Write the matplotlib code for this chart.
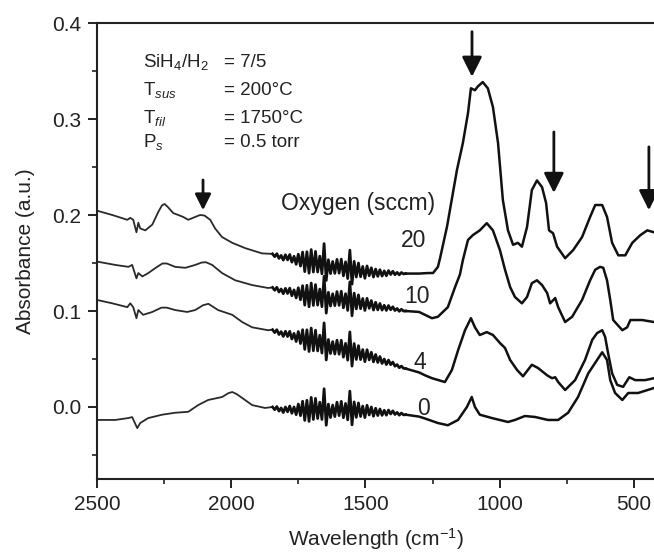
import numpy as np
import matplotlib
matplotlib.use("Agg")
import matplotlib.pyplot as plt
from matplotlib.ticker import MultipleLocator, FormatStrFormatter

plt.rcParams['font.family'] = ['Liberation Sans', 'DejaVu Sans']
plt.rcParams['mathtext.fontset'] = 'custom'
plt.rcParams['mathtext.rm'] = 'Liberation Sans'
plt.rcParams['mathtext.it'] = 'Liberation Sans:italic'

# ---- data (wavenumber in cm-1, absorbance in a.u.) ----
# water-vapour band: common grid, residual lines (mAbs) shared by all spectra
wn_h2o = np.arange(1846, 1349, -8)
h2o_res = [1.5, -1, 2.5, -2, 1.5, -3, 3, -2, 4, -3.5, 3, -5, 6,
           -6, 9, -11, 10, -12, 13, -10, 12, -9, 8, -10, 22,
           -16, 6, -8, 5, -7, 8, -6, 9, -8, 7, -10, 20, -15,
           9, -7, 8, -6, 5, -7, 6, -4, 4.5, -5, 3.5, -4, 3, -3.5, 2, -3,
           2.5, -1.5, 2, -1.5, 1, -1.5, 1, -0.5, 0]

# 20 sccm
c20_left_wn = [2500, 2443, 2387, 2376, 2365, 2353, 2346, 2339, 2320, 2294, 2272, 2258, 2248, 2235,
               2216, 2197, 2179, 2160, 2134, 2116, 2100, 2078, 2060, 2034, 1996, 1948, 1885]
c20_left_ab = [0.2045, 0.200, 0.195, 0.197, 0.195, 0.182, 0.192, 0.186, 0.184, 0.190, 0.203, 0.210, 0.2115, 0.208,
               0.202, 0.200, 0.198, 0.195, 0.198, 0.2, 0.1995, 0.195, 0.186, 0.177, 0.171, 0.1655, 0.160]
c20_h2o_base = [158.0, 157.6, 157.2, 156.8, 156.4, 156.0, 155.6, 155.2, 154.8, 154.4, 154.0, 153.6, 153.2,
                152.8, 152.4, 152.0, 151.7, 151.4, 151.0, 150.6, 150.1, 149.6, 149.2, 148.7, 148.2,
                147.8, 147.4, 147.0, 146.6, 146.2, 145.8, 145.4, 145.0, 144.6, 144.2, 143.8, 143.4, 143.0,
                142.7, 142.4, 142.0, 141.7, 141.4, 141.1, 140.9, 140.7, 140.5, 140.4, 140.2, 140.1, 140.0,
                139.9, 139.8, 139.7, 139.6, 139.5, 139.4, 139.3, 139.2, 139.2, 139.1, 139.1, 139.0]
c20_right_wn = [1300, 1270, 1248, 1230, 1222, 1196, 1159, 1137, 1118, 1107,
                1092, 1081, 1063, 1044, 1025, 1006, 988, 969, 950, 932,
                917, 898, 880, 861, 842, 827, 816, 801, 786, 756,
                726, 693, 663, 644, 618, 600, 581, 558, 532, 506,
                476, 450, 425]
c20_right_ab = [0.139, 0.1395, 0.1396, 0.146, 0.155, 0.188, 0.247, 0.275, 0.306, 0.332,
                0.330, 0.334, 0.3385, 0.332, 0.3125, 0.275, 0.2156, 0.184, 0.169, 0.171,
                0.167, 0.1875, 0.226, 0.236, 0.229, 0.2125, 0.184, 0.181, 0.167, 0.155,
                0.1635, 0.177, 0.198, 0.2104, 0.2104, 0.198, 0.171, 0.158, 0.158, 0.171,
                0.179, 0.184, 0.182]

# 10 sccm
c10_left_wn = [2500, 2432, 2383, 2369, 2353, 2346, 2331, 2309, 2276, 2256, 2240, 2209, 2171, 2134,
               2110, 2094, 2071, 2034, 1985, 1922, 1863]
c10_left_ab = [0.1515, 0.148, 0.146, 0.148, 0.134, 0.1395, 0.136, 0.1395, 0.146, 0.1495, 0.1495, 0.146, 0.145, 0.148,
               0.1505, 0.1508, 0.148, 0.1395, 0.132, 0.127, 0.124]
c10_h2o_base = [123.0, 122.6, 122.2, 121.8, 121.4, 121.0, 120.6, 120.2, 119.8, 119.4, 119.0, 118.6, 118.2,
                117.7, 117.4, 117.1, 116.8, 116.4, 116.1, 115.8, 115.5, 115.1, 114.8, 114.5, 114.2,
                113.8, 113.5, 113.2, 112.9, 112.6, 112.2, 111.9, 111.6, 111.3, 111.0, 110.6, 110.3, 110.0,
                109.6, 109.2, 108.8, 108.4, 108.0, 107.6, 107.2, 106.8, 106.4, 106.0, 105.6, 105.2, 104.8,
                104.4, 104.0, 103.6, 103.2, 102.8, 102.4, 102.0, 101.6, 101.2, 100.8, 100.4, 100.0]
c10_right_wn = [1300, 1278, 1252, 1230, 1193, 1166, 1148, 1137, 1118, 1100,
                1074, 1048, 1025, 999, 980, 961, 943, 917, 898, 880,
                861, 842, 823, 812, 793, 782, 756, 730, 693, 663,
                644, 626, 614, 600, 588, 577, 543, 525, 513, 469, 425]
c10_right_ab = [0.099, 0.096, 0.0925, 0.094, 0.104, 0.125, 0.138, 0.153, 0.174, 0.179,
                0.184, 0.1915, 0.184, 0.1635, 0.143, 0.125, 0.1146, 0.108, 0.1146, 0.129,
                0.132, 0.127, 0.1187, 0.108, 0.1135, 0.104, 0.0885, 0.094, 0.1115, 0.132,
                0.143, 0.146, 0.145, 0.132, 0.1115, 0.0906, 0.080, 0.083, 0.0906, 0.0906, 0.0885]

# 4 sccm
c4_left_wn = [2500, 2443, 2387, 2376, 2365, 2353, 2346, 2328, 2294, 2260, 2240, 2209, 2164, 2134,
              2105, 2085, 2049, 1996, 1959, 1922, 1863]
c4_left_ab = [0.1115, 0.108, 0.104, 0.108, 0.104, 0.0925, 0.101, 0.096, 0.099, 0.1035, 0.1035, 0.101, 0.099, 0.101,
              0.106, 0.1075, 0.101, 0.096, 0.0885, 0.083, 0.080]
c4_h2o_base = [79.0, 78.5, 78.0, 77.5, 77.0, 76.5, 75.9, 75.4, 74.8, 74.3, 73.7, 73.2, 72.6,
               72.1, 71.5, 71.0, 70.4, 69.8, 69.2, 68.6, 68.0, 67.4, 66.8, 66.2, 65.6,
               65.0, 64.3, 63.7, 63.1, 62.2, 61.6, 61.0, 60.5, 59.9, 59.3, 58.8, 58.2, 57.6,
               57.1, 56.5, 55.9, 55.4, 54.8, 54.2, 53.7, 53.1, 52.5, 52.0, 51.2, 50.4, 49.6,
               48.8, 48.0, 47.2, 46.4, 45.6, 44.8, 44.0, 43.2, 42.4, 41.6, 40.8, 40.0]
c4_right_wn = [1300, 1278, 1252, 1204, 1178, 1155, 1129, 1107, 1092, 1074,
               1048, 1025, 999, 980, 961, 935, 913, 880, 857, 823,
               805, 793, 782, 756, 719, 682, 655, 637, 618, 607,
               596, 581, 562, 540, 517, 495, 458, 425]
c4_right_ab = [0.036, 0.033, 0.030, 0.026, 0.0385, 0.059, 0.080, 0.0925, 0.083, 0.075,
               0.078, 0.075, 0.0667, 0.0615, 0.049, 0.0385, 0.032, 0.044, 0.0406, 0.033,
               0.030, 0.031, 0.026, 0.0177, 0.028, 0.049, 0.070, 0.077, 0.080, 0.073,
               0.056, 0.035, 0.023, 0.021, 0.031, 0.028, 0.028, 0.030]

# 0 sccm
c0_left_wn = [2500, 2432, 2383, 2369, 2350, 2339, 2309, 2257, 2209, 2160, 2123, 2086, 2034,
              2010, 1996, 1980, 1959, 1922, 1874]
c0_left_ab = [-0.0135, -0.0135, -0.0115, -0.0105, -0.022, -0.0167, -0.0115, -0.008, -0.006, -0.005,
              0.002, 0.0073, 0.0104, 0.0145, 0.0156, 0.0135, 0.0094, 0.002, -0.001]
c0_h2o_base = [-1.5, -1.8, -2.0, -2.3, -2.5, -2.8, -3.0, -3.0, -3.0, -3.0, -3.0, -3.0, -3.0,
               -3.0, -3.0, -3.0, -3.0, -3.0, -3.0, -3.0, -3.0, -3.0, -3.0, -3.0, -3.0,
               -3.0, -3.0, -3.0, -3.0, -3.0, -3.0, -3.0, -3.1, -3.2, -3.3, -3.4, -3.5, -3.6,
               -3.7, -3.8, -3.8, -3.9, -4.0, -4.0, -4.2, -4.3, -4.5, -4.6, -4.8, -4.9, -5.1,
               -5.2, -5.4, -5.5, -5.7, -5.8, -6.0, -6.3, -6.6, -7.0, -7.3, -7.7, -8.0]
c0_right_wn = [1300, 1278, 1230, 1193, 1155, 1122, 1104, 1092, 1074, 1029,
               969, 943, 906, 868, 820, 782, 745, 708, 670, 637,
               618, 600, 588, 570, 543, 521, 484, 425]
c0_right_ab = [-0.010, -0.012, -0.0167, -0.019, -0.0135, 0.0, 0.0104, 0.0, -0.008, -0.0115,
               -0.0156, -0.0135, -0.0094, -0.0104, -0.0135, -0.0135, -0.006, 0.0104, 0.035, 0.049,
               0.057, 0.049, 0.028, 0.0146, 0.0073, 0.0146, 0.0146, 0.0198]

labels = ['20', '10', '4', '0']
label_pos = [(1319, 0.167), (1308, 0.108), (1297, 0.040), (1282, -0.008)]
arrows = [(2105, 0.2365, 0.205), (1103, 0.391, 0.344), (798, 0.2865, 0.223), (444, 0.271, 0.205)]

curves = [
    (c20_left_wn, c20_left_ab, c20_h2o_base, c20_right_wn, c20_right_ab),
    (c10_left_wn, c10_left_ab, c10_h2o_base, c10_right_wn, c10_right_ab),
    (c4_left_wn, c4_left_ab, c4_h2o_base, c4_right_wn, c4_right_ab),
    (c0_left_wn, c0_left_ab, c0_h2o_base, c0_right_wn, c0_right_ab),
]

fig = plt.figure(figsize=(6.54, 5.56), dpi=100)
ax = fig.add_axes([0.1483, 0.1385, 0.8517, 0.8201])

for lwn, lab, base, rwn, rab in curves:
    h2o = (np.array(base) + np.array(h2o_res)) / 1000.0
    ax.plot(list(lwn) + [wn_h2o[0]], list(lab) + [h2o[0]], color='#2a2a2a', lw=1.3)
    ax.plot(wn_h2o, h2o, color='#111111', lw=2.0)
    ax.plot(np.concatenate([wn_h2o[-1:], rwn]), np.concatenate([h2o[-1:], rab]),
            color='#111111', lw=1.8)

ax.set_xlim(2500, 425)
ax.set_ylim(-0.075, 0.4)
ax.xaxis.set_major_locator(MultipleLocator(500))
ax.xaxis.set_minor_locator(MultipleLocator(250))
ax.yaxis.set_major_locator(MultipleLocator(0.1))
ax.yaxis.set_minor_locator(MultipleLocator(0.05))
ax.yaxis.set_major_formatter(FormatStrFormatter('%.1f'))
ax.tick_params(which='major', direction='out', length=6.5, width=1.4, labelsize=15, pad=5, colors='#222222')
ax.tick_params(which='minor', direction='out', length=3.5, width=1.2, colors='#222222')
ax.spines['right'].set_visible(False)
for s in ['left', 'bottom', 'top']:
    ax.spines[s].set_linewidth(1.5)
    ax.spines[s].set_color('#222222')

ax.set_xlabel('Wavelength (cm$^{\\mathregular{-1}}$)', fontsize=15, labelpad=9, color='#222222')
ax.set_ylabel('Absorbance (a.u.)', fontsize=15, labelpad=12, color='#222222')

# deposition conditions
cond_left = ['SiH$_4$/H$_2$', 'T$_{sus}$', 'T$_{fil}$', 'P$_{s}$']
cond_right = ['= 7/5', '= 200°C', '= 1750°C', '= 0.5 torr']
cond_y = [0.354, 0.325, 0.296, 0.271]
for a, b, y in zip(cond_left, cond_right, cond_y):
    ax.text(2329, y, a, fontsize=13.5, va='baseline', color='#222222')
    ax.text(2026, y, b, fontsize=13.5, va='baseline', color='#222222')

ax.text(1814, 0.205, 'Oxygen (sccm)', fontsize=16.5, va='baseline', color='#222222')
for lab, (x, y) in zip(labels, label_pos):
    ax.text(x, y, lab, fontsize=16.5, ha='center', va='baseline', color='#222222')

for i, (x, top, tip) in enumerate(arrows):
    ms = 16 if i == 0 else 20
    ax.annotate('', xy=(x, tip), xytext=(x, top),
                arrowprops=dict(arrowstyle='-|>,head_length=0.6,head_width=0.3', color='#111111',
                                lw=2, mutation_scale=ms, shrinkA=0, shrinkB=0),
                annotation_clip=False)

fig.savefig('out.png', dpi=100)
